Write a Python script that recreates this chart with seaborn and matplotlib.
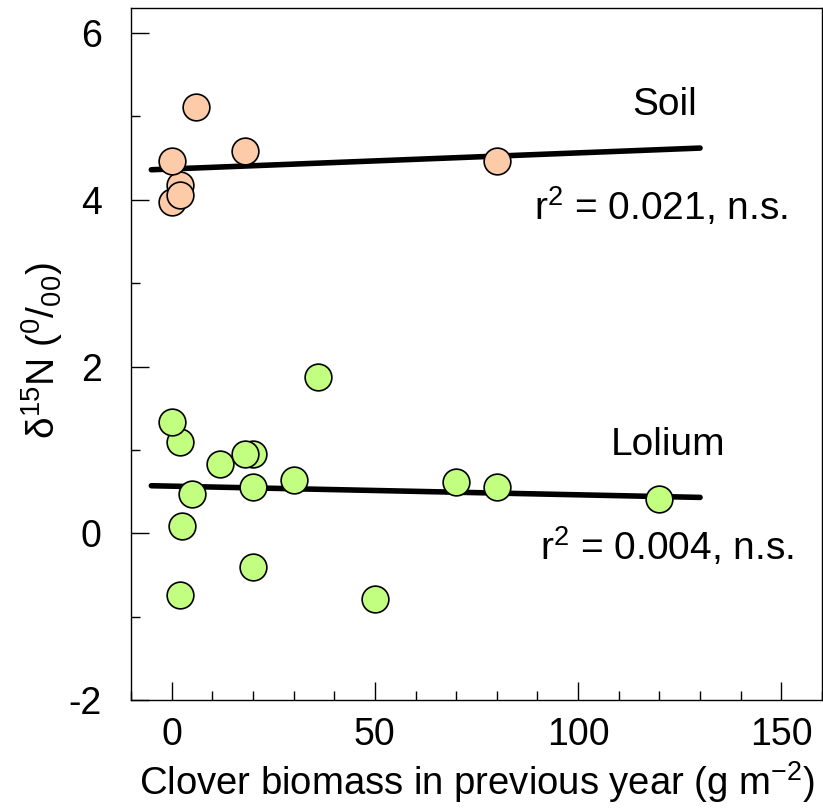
import numpy as np
import pandas as pd
import matplotlib
matplotlib.use("Agg")
import matplotlib.pyplot as plt
import seaborn as sns
from matplotlib.ticker import MultipleLocator

# ---- data ----
soil_x = [0, 2, 2, 0, 6, 18, 80]
soil_y = [3.97, 4.18, 4.06, 4.46, 5.11, 4.59, 4.46]

lolium_x = [36, 2, 0, 12, 20, 18, 5, 20, 30, 2.5, 20, 2, 50, 70, 80, 120]
lolium_y = [1.87, 1.09, 1.34, 0.83, 0.95, 0.95, 0.47, 0.55, 0.64, 0.09, -0.41, -0.74, -0.79, 0.61, 0.55, 0.41]

# fitted regression lines (endpoints)
fit_x = [-5, 130]
soil_fit_y = [4.36, 4.62]
lolium_fit_y = [0.57, 0.43]

x_ticks = [0, 50, 100, 150]
y_ticks = [-2, 0, 2, 4, 6]

soil_label = "Soil"
soil_stat = r"r$^{2}$ = 0.021, n.s."
lolium_label = "Lolium"
lolium_stat = r"r$^{2}$ = 0.004, n.s."

# ---- style ----
sns.set_style("ticks")
plt.rcParams["font.family"] = ["Liberation Sans", "DejaVu Sans"]
plt.rcParams["mathtext.fontset"] = "custom"
plt.rcParams["mathtext.rm"] = "Liberation Sans"
plt.rcParams["mathtext.it"] = "Liberation Sans"
plt.rcParams["mathtext.bf"] = "Liberation Sans:bold"
plt.rcParams["axes.unicode_minus"] = False
for k in ["text.color", "axes.labelcolor", "xtick.color", "ytick.color",
          "xtick.labelcolor", "ytick.labelcolor", "axes.edgecolor"]:
    plt.rcParams[k] = "black"

SOIL_C = "#FDCBA8"
LOL_C = "#C2FE80"

fig = plt.figure(figsize=(8.23, 8.09), dpi=100)
ax = fig.add_axes([131 / 823, 109 / 809, 691 / 823, 692 / 809])

soil_df = pd.DataFrame({"x": soil_x, "y": soil_y})
lol_df = pd.DataFrame({"x": lolium_x, "y": lolium_y})
fit_df = pd.DataFrame({"x": fit_x, "soil": soil_fit_y, "lolium": lolium_fit_y})

sns.lineplot(data=fit_df, x="x", y="soil", ax=ax, color="black", lw=4.0,
             solid_capstyle="round", zorder=2)
sns.lineplot(data=fit_df, x="x", y="lolium", ax=ax, color="black", lw=4.0,
             solid_capstyle="round", zorder=2)

sns.scatterplot(data=soil_df, x="x", y="y", ax=ax, s=370, color=SOIL_C,
                edgecolor="black", linewidth=1.2, zorder=3)
sns.scatterplot(data=lol_df, x="x", y="y", ax=ax, s=370, color=LOL_C,
                edgecolor="black", linewidth=1.2, zorder=3)

ax.set_xlim(-10, 160)
ax.set_ylim(-2, 6.3)
ax.set_xticks(x_ticks)
ax.set_yticks(y_ticks)
ax.xaxis.set_minor_locator(MultipleLocator(10))
ax.yaxis.set_minor_locator(MultipleLocator(1))

ax.tick_params(which="major", direction="in", length=13, width=1.0,
               labelsize=27, top=False, right=False, colors="black")
ax.tick_params(which="minor", direction="in", length=6.5, width=1.0,
               top=False, right=False, colors="black")
ax.tick_params(axis="y", which="major", pad=21)
ax.tick_params(axis="x", which="major", pad=12)

for sp in ax.spines.values():
    sp.set_linewidth(1.0)
    sp.set_color("black")

ax.set_xlabel("Clover biomass in previous year (g m$^{-2}$)", fontsize=27.5, labelpad=5)
ax.set_ylabel("δ$^{15}$N ($^{0}$/$_{00}$)", fontsize=28)
ax.yaxis.set_label_coords(-0.0955, 0.505)

ax.text(121.3, 5.02, soil_label, fontsize=28, ha="center", va="baseline")
ax.text(120.4, 3.76, soil_stat, fontsize=28, ha="center", va="baseline")
ax.text(122.1, 0.94, lolium_label, fontsize=28, ha="center", va="baseline")
ax.text(121.9, -0.32, lolium_stat, fontsize=28, ha="center", va="baseline")

fig.savefig("out.png", dpi=100)
